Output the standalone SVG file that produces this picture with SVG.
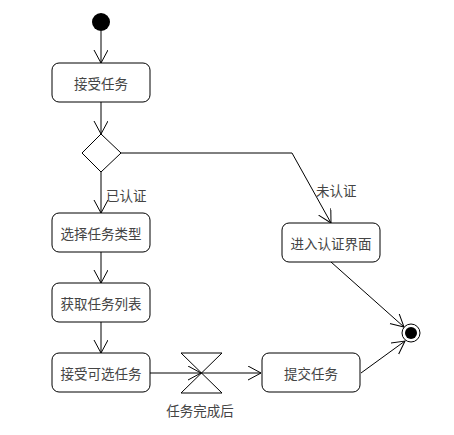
<svg xmlns="http://www.w3.org/2000/svg" width="454" height="435" viewBox="0 0 454 435">
<defs>
<marker id="open" markerWidth="16" markerHeight="16" refX="13" refY="7" orient="auto" markerUnits="userSpaceOnUse">
<path d="M0,0 L13,7 L0,14" fill="none" stroke="#000" stroke-width="1"/>
</marker>
</defs>
<style>
.box{fill:#fff;stroke:#000;stroke-width:1}
.t{font-family:"Noto Sans CJK SC","Noto Sans",sans-serif;font-size:13.5px;fill:#444;text-anchor:middle;dominant-baseline:central}
.l{font-family:"Noto Sans CJK SC","Noto Sans",sans-serif;font-size:13.5px;fill:#444}
.c{fill:none;stroke:#000;stroke-width:1;marker-end:url(#open)}
</style>
<rect width="454" height="435" fill="#fff"/>
<g id="connectors">
<line class="c" x1="101" y1="31" x2="101" y2="63"/>
<line class="c" x1="101" y1="102" x2="101" y2="134"/>
<polyline class="c" points="121,153 292,153 331,223"/>
<line class="c" x1="101" y1="172" x2="101" y2="213"/>
<line class="c" x1="101" y1="252" x2="101" y2="283"/>
<line class="c" x1="101" y1="322" x2="101" y2="353"/>
<line class="c" x1="150" y1="373" x2="201" y2="373"/>
<line class="c" x1="201" y1="373" x2="261" y2="373"/>
<line class="c" x1="331" y1="262" x2="404" y2="327"/>
<line class="c" x1="361" y1="373" x2="405" y2="341"/>
<text class="l" x="106" y="201">已认证</text>
<text class="l" x="316" y="196">未认证</text>
</g>
<g id="start"><circle cx="101" cy="22" r="9" fill="#000"/></g>
<g id="n1"><rect class="box" x="52" y="63" width="98" height="39" rx="7"/><text class="t" x="101" y="82.5">接受任务</text></g>
<g id="decision"><polygon points="101,134 121,153 101,172 82,153" fill="#fff" stroke="#000"/></g>
<g id="n2"><rect class="box" x="52" y="213" width="98" height="39" rx="7"/><text class="t" x="101" y="232.5">选择任务类型</text></g>
<g id="n3"><rect class="box" x="52" y="283" width="98" height="39" rx="7"/><text class="t" x="101" y="302.5">获取任务列表</text></g>
<g id="n4"><rect class="box" x="52" y="353" width="98" height="39" rx="7"/><text class="t" x="101" y="372.5">接受可选任务</text></g>
<g id="n5"><rect class="box" x="282" y="223" width="98" height="39" rx="7"/><text class="t" x="331" y="242.5">进入认证界面</text></g>
<g id="n6"><rect class="box" x="262" y="353" width="98" height="39" rx="7"/><text class="t" x="311" y="372.5">提交任务</text></g>
<g id="timer"><polygon points="181,353 222,353 181,393 222,393" fill="none" stroke="#000"/><text class="t" x="200" y="410">任务完成后</text></g>
<g id="end"><circle cx="411" cy="333" r="9" fill="#fff" stroke="#000"/><circle cx="411" cy="333" r="6" fill="#000"/></g>
</svg>
